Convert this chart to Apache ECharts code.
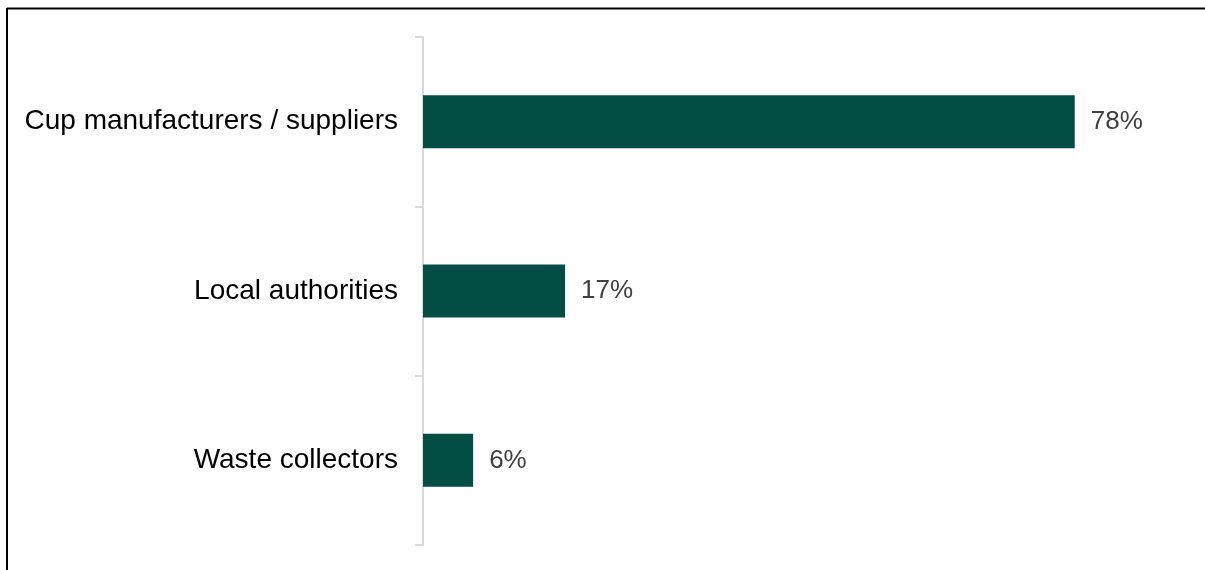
<!DOCTYPE html>
<html>
<head>
<meta charset="utf-8">
<script src="https://cdn.jsdelivr.net/npm/echarts@6/dist/echarts.min.js"></script>
<style>
html,body{margin:0;padding:0;background:#fff;}
#chart{width:1205px;height:570px;}
</style>
</head>
<body>
<div id="chart"></div>
<script>
const categories = ["Cup manufacturers / suppliers", "Local authorities", "Waste collectors"];
const values = [78, 17, 6];

const chart = echarts.init(document.getElementById('chart'), null, {renderer: 'canvas'});
chart.setOption({
  animation: false,
  backgroundColor: '#ffffff',
  graphic: [
    {type: 'line', shape: {x1: 7, y1: 8.5, x2: 1205, y2: 8.5}, style: {stroke: '#000', lineWidth: 2}},
    {type: 'line', shape: {x1: 7, y1: 8, x2: 7, y2: 570}, style: {stroke: '#000', lineWidth: 2}}
  ],
  grid: {left: 423, top: 37, bottom: 25, right: 30, containLabel: false},
  xAxis: {
    type: 'value', min: 0, max: 90, show: false
  },
  yAxis: {
    type: 'category',
    data: categories,
    inverse: true,
    axisLine: {show: true, lineStyle: {color: '#d9d9d9', width: 2}},
    axisTick: {show: true, length: 8, lineStyle: {color: '#d9d9d9', width: 2}},
    axisLabel: {
      margin: 25,
      color: '#000000',
      fontFamily: 'Liberation Sans, Arial, sans-serif',
      fontSize: 28
    }
  },
  series: [{
    type: 'bar',
    data: values,
    barWidth: 53,
    itemStyle: {color: '#024E44'},
    label: {
      show: true,
      position: 'right',
      distance: 16,
      formatter: p => p.value + '%',
      color: '#404040',
      fontFamily: 'Liberation Sans, Arial, sans-serif',
      fontSize: 26
    }
  }]
});
</script>
</body>
</html>
